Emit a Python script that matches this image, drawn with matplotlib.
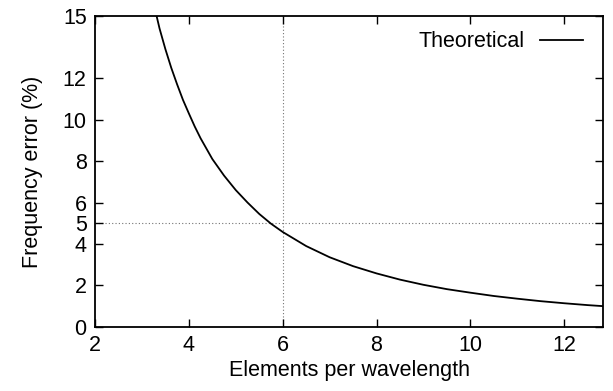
import matplotlib
matplotlib.use('Agg')
import matplotlib.pyplot as plt

# values
elements = [3.25, 3.375, 3.5, 3.625, 3.75, 3.875, 4.0, 4.125, 4.25, 4.375, 4.5,
            4.625, 4.75, 5.0, 5.25, 5.5, 5.75, 6.0, 6.5, 7.0, 7.5, 8.0, 8.5,
            9.0, 9.5, 10.0, 10.5, 11.0, 11.5, 12.0, 12.5, 12.83]
freq_error = [15.6, 14.4, 13.4, 12.5, 11.7, 10.95, 10.3, 9.67, 9.1, 8.6, 8.1,
              7.7, 7.3, 6.6, 6.0, 5.45, 4.98, 4.58, 3.9, 3.36, 2.93, 2.58, 2.28,
              2.03, 1.82, 1.65, 1.49, 1.36, 1.24, 1.14, 1.05, 1.0]
xticks = [2, 4, 6, 8, 10, 12]
yticks = [0, 2, 4, 5, 6, 8, 10, 12, 15]

plt.rcParams['font.family'] = ['Liberation Sans', 'DejaVu Sans']
plt.rcParams['font.size'] = 15.5

fig = plt.figure(figsize=(6.13, 3.91), dpi=100)
ax = fig.add_axes([0.155, 0.164, 0.829, 0.795])

ax.axvline(6, color='0.45', lw=0.8, ls=(0, (1, 2)), zorder=1)
ax.axhline(5, color='0.45', lw=0.8, ls=(0, (1, 2)), zorder=1)
ax.plot(elements, freq_error, color='black', lw=1.3, label='Theoretical', zorder=3)

ax.set_xlim(2, 12.83)
ax.set_ylim(0, 15)
ax.set_xticks(xticks)
ax.set_yticks(yticks)
ax.tick_params(direction='in', length=6, width=1, top=True, right=True, pad=6)
ax.tick_params(axis='y', pad=6)
for s in ax.spines.values():
    s.set_linewidth(1.3)

ax.set_xlabel('Elements per wavelength', labelpad=3)
ax.set_ylabel('Frequency error (%)', labelpad=14)

ax.legend(loc='upper right', bbox_to_anchor=(0.99, 1.0), frameon=False,
          markerfirst=False, handlelength=2.0, handletextpad=0.7,
          borderaxespad=0.3)

fig.savefig('out.png', dpi=100)
